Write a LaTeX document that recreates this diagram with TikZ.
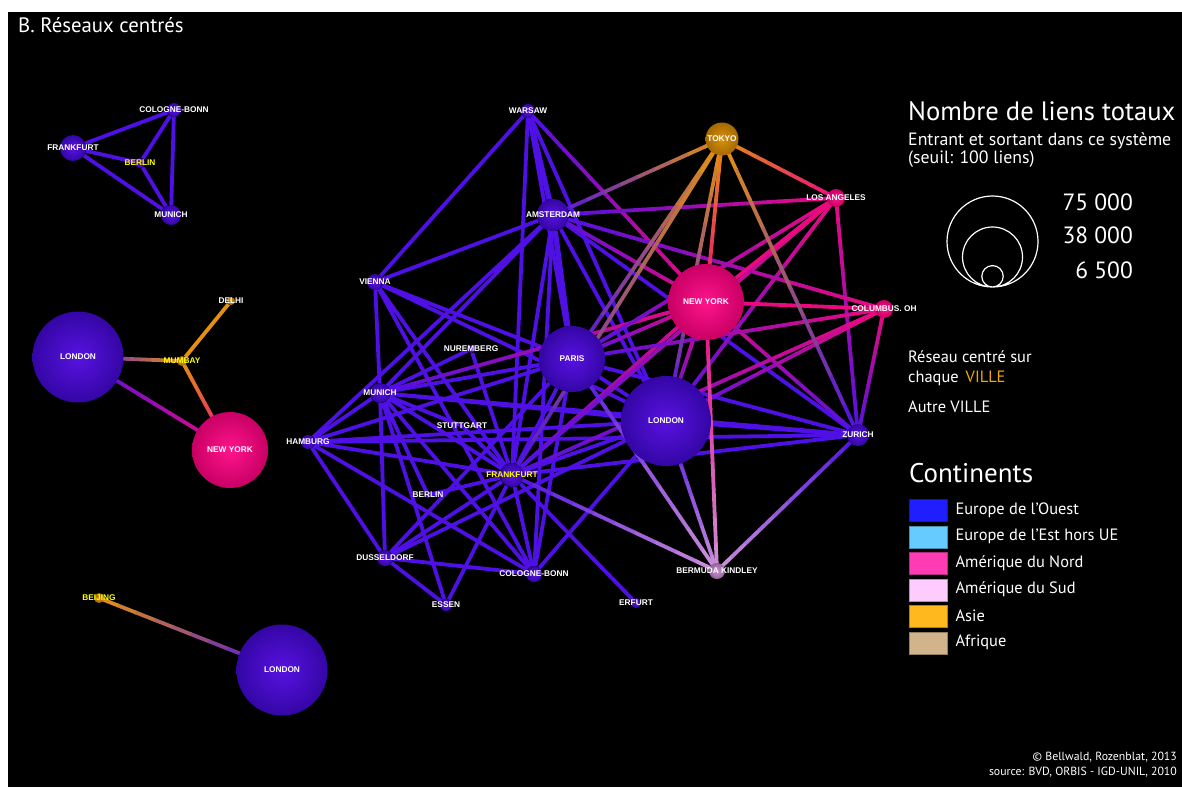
\documentclass[tikz,border=0pt]{standalone}
\usepackage{fontspec}
\setmainfont{PT Sans}
\newfontfamily\villefont{Liberation Sans}
\usetikzlibrary{positioning, backgrounds, calc}

\definecolor{euro}{RGB}{78,16,228}
\definecolor{eurohi}{RGB}{88,18,225}
\definecolor{eurolo}{RGB}{52,6,165}
\definecolor{nordam}{RGB}{235,10,125}
\definecolor{nordhi}{RGB}{255,20,140}
\definecolor{nordlo}{RGB}{200,0,100}
\definecolor{asie}{RGB}{228,145,15}
\definecolor{asiehi}{RGB}{215,145,15}
\definecolor{asielo}{RGB}{165,105,0}
\definecolor{bermude}{RGB}{205,145,215}
\definecolor{jaune}{RGB}{255,255,0}
\definecolor{ville}{RGB}{240,168,0}
% couleurs des continents
\definecolor{cOuest}{RGB}{30,30,255}
\definecolor{cEst}{RGB}{102,204,255}
\definecolor{cNord}{RGB}{255,60,180}
\definecolor{cSud}{RGB}{255,204,255}
\definecolor{cAsie}{RGB}{255,185,30}
\definecolor{cAfrique}{RGB}{210,180,140}

% lien entre deux continents : degrade de la couleur #3 a la couleur #4
\newcommand\degrade[4]{%
	\foreach \i in {0,...,9}{%
		\pgfmathsetmacro\ddeb{\i/10}%
		\pgfmathsetmacro\dfin{(\i+1.05)/10}%
		\pgfmathtruncatemacro\dosage{95-10*\i}%
		\draw [lien=#3!\dosage!#4] ($(#1)!\ddeb!(#2)$) -- ($(#1)!\dfin!(#2)$);}}

\begin{document}
\begin{tikzpicture}[x=1pt, y=-1pt,
	boule/.style={circle, inner sep=0pt, minimum size=#1pt, inner color=eurohi, outer color=eurolo},
	boule na/.style={boule=#1, inner color=nordhi, outer color=nordlo},
	boule asie/.style={boule=#1, inner color=asiehi, outer color=asielo},
	boule bda/.style={boule=#1, inner color=bermude, outer color=bermude!70!black},
	ville/.style={font=\villefont\bfseries\fontsize{8.3}{9}\selectfont, text=white, inner sep=0pt},
	centre/.style={ville, text=jaune},
	lien/.style={draw=#1, line width=3.8pt},
	lien/.default=euro,
	epais/.style={line width=5.5pt},
	legende/.style={text=white, inner sep=0pt, anchor=base west, font=\fontsize{16.4}{19}\selectfont},
	caisse/.style={draw=#1!70!black, fill=#1, minimum width=38pt, minimum height=22pt, inner sep=0pt, anchor=north west}]

	\useasboundingbox (0,0) rectangle (1182,787);

	% reseau centre sur Berlin
	\node [boule=26, label={[ville]center:FRANKFURT}] (fraA) at (73,148) {};
	\node [boule=14, label={[ville]center:COLOGNE-BONN}] (colA) at (174,110) {};
	\node [boule=10, label={[centre]center:BERLIN}] (berA) at (140,163) {};
	\node [boule=20, label={[ville]center:MUNICH}] (munA) at (171,215) {};

	% reseau centre sur Mumbai
	\node [boule=91, label={[ville]center:LONDON}] (lonB) at (78,357) {};
	\node [boule asie=10, label={[centre]center:MUMBAY}] (mumB) at (182,361) {};
	\node [boule asie=8, label={[ville]center:DELHI}] (delB) at (231,301) {};
	\node [boule na=76, label={[ville]center:NEW YORK}] (nyB) at (230,450) {};

	% reseau centre sur Beijing
	\node [boule asie=10, label={[centre]center:BEIJING}] (beiC) at (99,598) {};
	\node [boule=91, label={[ville]center:LONDON}] (lonC) at (282,670) {};

	% reseau centre sur Frankfurt
	\node [boule=14, label={[ville]center:WARSAW}] (war) at (528,111) {};
	\node [boule asie=33, label={[ville]center:TOKYO}] (tok) at (722,139) {};
	\node [boule na=18, label={[ville]center:LOS ANGELES}] (la) at (836,198) {};
	\node [boule=32, label={[ville]center:AMSTERDAM}] (ams) at (553,215) {};
	\node [boule=16, label={[ville]center:VIENNA}] (vie) at (375,282) {};
	\node [boule na=76, label={[ville]center:NEW YORK}] (ny) at (706,302) {};
	\node [boule na=18, label={[ville]center:COLUMBUS. OH}] (col) at (884,309) {};
	\node [boule=8, label={[ville]center:NUREMBERG}] (nur) at (471,349) {};
	\node [boule=66, label={[ville]center:PARIS}] (par) at (572,359) {};
	\node [boule=20, label={[ville]center:MUNICH}] (mun) at (380,393) {};
	\node [boule=6, label={[ville]center:STUTTGART}] (stu) at (462,426) {};
	\node [boule=90, label={[ville]center:LONDON}] (lon) at (666,421) {};
	\node [boule=22, label={[ville]center:ZURICH}] (zur) at (858,435) {};
	\node [boule=14, label={[ville]center:HAMBURG}] (ham) at (308,442) {};
	\node [boule=24, label={[centre]center:FRANKFURT}] (fra) at (512,475) {};
	\node [boule=6, label={[ville]center:BERLIN}] (ber) at (428,495) {};
	\node [boule=16, label={[ville]center:DUSSELDORF}] (dus) at (385,558) {};
	\node [boule=16, label={[ville]center:COLOGNE-BONN}] (cgn) at (534,574) {};
	\node [boule bda=16, label={[ville]center:BERMUDA KINDLEY}] (bda) at (717,571) {};
	\node [boule=12, label={[ville]center:ESSEN}] (ess) at (446,605) {};
	\node [boule=10, label={[ville]center:ERFURT}] (erf) at (636,603) {};

	\begin{scope}[on background layer]
	\fill [white] (0,0) rectangle (1182,787);
	\fill [black] (8,12) rectangle (1182,787);

	\draw [lien] (fraA) -- (colA) (fraA) -- (berA) (fraA) -- (munA) (colA) -- (berA) (colA) -- (munA) (berA) -- (munA);
	\degrade{lonB}{mumB}{euro}{asie}
	\draw [lien=asie] (mumB) -- (delB);
	\degrade{mumB}{nyB}{asie}{nordam}
	\degrade{lonB}{nyB}{euro}{nordam}
	\degrade{beiC}{lonC}{asie}{euro}

	% liens europeens
	\draw [lien] (war) -- (vie) (war) -- (par) (war) -- (lon) (war) -- (fra);
	\draw [lien, epais] (war) -- (ams) (ams) -- (par);
	\draw [lien] (ams) -- (vie) (ams) -- (lon) (ams) -- (fra) (ams) -- (mun) (ams) -- (ham) (ams) -- (zur) (ams) -- (cgn);
	\draw [lien] (vie) -- (mun) (vie) -- (par) (vie) -- (lon) (vie) -- (fra) (vie) -- (cgn);
	\draw [lien] (mun) -- (ham) (mun) -- (par) (mun) -- (lon) (mun) -- (fra) (mun) -- (dus) (mun) -- (cgn)
		(mun) -- (ess) (mun) -- (zur) (mun) -- (nur) (mun) -- (ber) (mun) -- (stu);
	\draw [lien] (ham) -- (par) (ham) -- (lon) (ham) -- (fra) (ham) -- (zur) (ham) -- (dus) (ham) -- (cgn);
	\draw [lien] (par) -- (lon) (par) -- (fra) (par) -- (zur) (par) -- (dus) (par) -- (cgn);
	\draw [lien] (lon) -- (fra) (lon) -- (zur) (lon) -- (dus) (lon) -- (cgn);
	\draw [lien] (fra) -- (zur) (fra) -- (dus) (fra) -- (cgn) (fra) -- (ess) (fra) -- (ber) (fra) -- (stu)
		(fra) -- (nur) (fra) -- (erf);
	\draw [lien] (dus) -- (cgn) (dus) -- (ess);

	% liens avec l'Amerique du Nord
	\degrade{ny}{war}{nordam}{euro} \degrade{ny}{ams}{nordam}{euro} \degrade{ny}{par}{nordam}{euro}
	\degrade{ny}{lon}{nordam}{euro} \degrade{ny}{fra}{nordam}{euro} \degrade{ny}{mun}{nordam}{euro}
	\degrade{ny}{zur}{nordam}{euro}
	\degrade{la}{ams}{nordam}{euro} \degrade{la}{par}{nordam}{euro} \degrade{la}{lon}{nordam}{euro}
	\degrade{la}{fra}{nordam}{euro} \degrade{la}{zur}{nordam}{euro}
	\degrade{col}{ams}{nordam}{euro} \degrade{col}{par}{nordam}{euro} \degrade{col}{lon}{nordam}{euro}
	\degrade{col}{fra}{nordam}{euro} \degrade{col}{zur}{nordam}{euro}
	\draw [lien=nordam] (ny) -- (la) (ny) -- (col);

	% liens avec Tokyo et les Bermudes
	\degrade{tok}{ams}{asie}{euro} \degrade{tok}{par}{asie}{euro} \degrade{tok}{fra}{asie}{euro}
	\degrade{tok}{lon}{asie}{euro} \degrade{tok}{zur}{asie}{euro}
	\degrade{tok}{ny}{asie}{nordam} \degrade{tok}{la}{asie}{nordam}
	\degrade{bda}{lon}{bermude}{euro} \degrade{bda}{par}{bermude}{euro} \degrade{bda}{fra}{bermude}{euro}
	\degrade{bda}{zur}{bermude}{euro}
	\degrade{bda}{ny}{bermude}{nordam}
	\end{scope}

	% titre
	\node [legende, font=\fontsize{20.8}{24}\selectfont] (titre) at (18,32) {B. Réseaux centrés};

	% legende des tailles
	\node [legende, font=\fontsize{26.6}{30}\selectfont] (nombre) at (908,120) {Nombre de liens totaux};
	\node [legende, font=\fontsize{17.8}{20}\selectfont] (entrant) at (908,145) {Entrant et sortant dans ce système};
	\node [legende, font=\fontsize{17.8}{20}\selectfont] (seuil) at (908,163) {(seuil: 100 liens)};
	\draw [white, line width=1.2pt] (992.5,241.5) circle (45.5pt) (992.5,257) circle (30pt) (992.5,276.3) circle (10.7pt);
	\node [legende, anchor=base east, font=\fontsize{23.5}{26}\selectfont] (v75) at (1133,210) {75 000};
	\node [legende, anchor=base east, font=\fontsize{23.5}{26}\selectfont] (v38) at (1133,243) {38 000};
	\node [legende, anchor=base east, font=\fontsize{23.5}{26}\selectfont] (v6) at (1133,278) {6 500};

	\node [legende] (reseau) at (908,362) {Réseau centré sur};
	\node [legende] (chaque) at (908,382) {chaque\hspace{7pt}\textcolor{ville}{VILLE}};
	\node [legende] (autre) at (908,412) {Autre VILLE};

	% legende des continents
	\node [legende, font=\fontsize{27}{30}\selectfont] (continents) at (909,482) {Continents};
	\node [caisse=cOuest] (ouest) at (909,499) {};
	\node [caisse=cEst] (est) at (909,525.5) {};
	\node [caisse=cNord] (nord) at (909,552) {};
	\node [caisse=cSud] (sud) at (909,578.5) {};
	\node [caisse=cAsie] (asie) at (909,605) {};
	\node [caisse=cAfrique] (afrique) at (909,631.5) {};
	\node [legende, anchor=west, right=8pt of ouest] {Europe de l’Ouest};
	\node [legende, anchor=west, right=8pt of est] {Europe de l’Est hors UE};
	\node [legende, anchor=west, right=8pt of nord] {Amérique du Nord};
	\node [legende, anchor=west, right=8pt of sud] {Amérique du Sud};
	\node [legende, anchor=west, right=8pt of asie] {Asie};
	\node [legende, anchor=west, right=8pt of afrique] {Afrique};

	% sources
	\node [legende, anchor=base east, font=\fontsize{11.8}{13}\selectfont] (auteurs) at (1177,760) {© Bellwald, Rozenblat, 2013};
	\node [legende, anchor=base east, font=\fontsize{11.8}{13}\selectfont] (source) at (1177,775) {source: BVD, ORBIS - IGD-UNIL, 2010};
\end{tikzpicture}
\end{document}
